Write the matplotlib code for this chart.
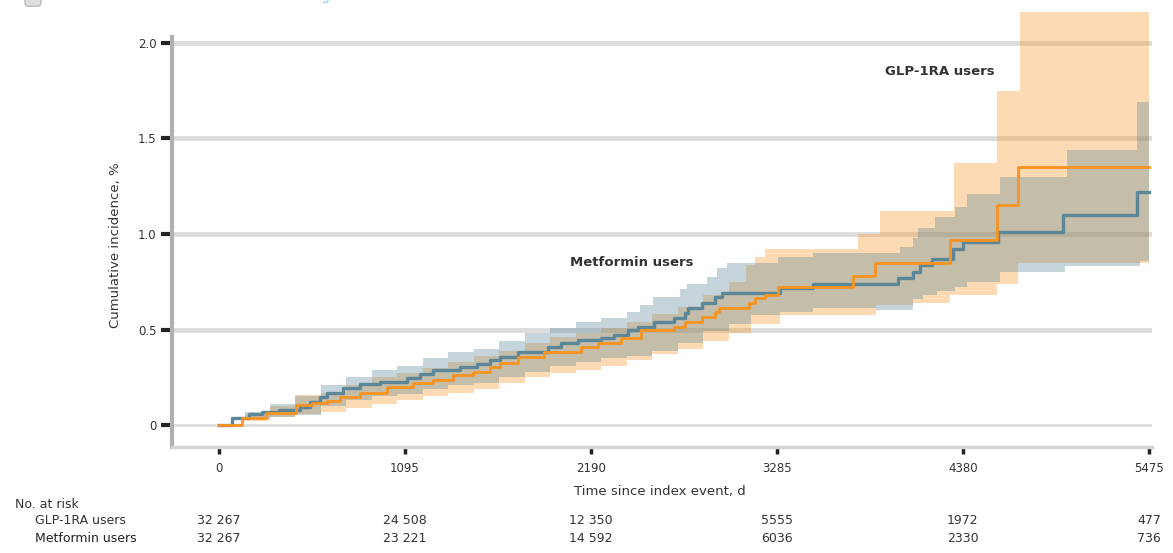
import numpy as np
import matplotlib
matplotlib.use('Agg')
import matplotlib.pyplot as plt
from matplotlib.transforms import blended_transform_factory

plt.rcParams['font.family'] = ['DejaVu Sans']

# Kaplan-Meier style cumulative incidence (%), step curves
glp_t = [0, 136, 278, 456, 550, 633, 710, 829, 988, 1142, 1261, 1379, 1497, 1598, 1657, 1758, 1912, 2131,
         2231, 2368, 2486, 2681, 2741, 2841, 2918, 2942, 3119, 3155, 3214, 3290, 3732, 3862, 4303, 4580,
         4704, 5475]
glp_est = [0.0, 0.037, 0.063, 0.105, 0.115, 0.126, 0.147, 0.168, 0.199, 0.220, 0.236, 0.262, 0.277, 0.304,
           0.325, 0.356, 0.382, 0.408, 0.429, 0.455, 0.497, 0.513, 0.539, 0.565, 0.592, 0.613, 0.639, 0.665,
           0.681, 0.72, 0.78, 0.85, 0.97, 1.15, 1.35, 1.35]

met_t = [0, 77, 178, 254, 355, 474, 533, 592, 633, 728, 829, 947, 1107, 1184, 1261, 1421, 1521, 1598, 1657,
         1758, 1935, 2012, 2113, 2249, 2326, 2409, 2468, 2563, 2681, 2741, 2764, 2841, 2918, 2960, 3303, 3497,
         3997, 4086, 4127, 4197, 4321, 4380, 4586, 4969, 5404, 5475]
met_est = [0.0, 0.037, 0.058, 0.068, 0.079, 0.094, 0.120, 0.147, 0.168, 0.194, 0.215, 0.225, 0.246, 0.267,
           0.288, 0.304, 0.319, 0.340, 0.354, 0.382, 0.408, 0.429, 0.445, 0.455, 0.471, 0.497, 0.513, 0.539,
           0.560, 0.586, 0.613, 0.639, 0.670, 0.691, 0.715, 0.74, 0.77, 0.80, 0.84, 0.87, 0.92, 0.96, 1.01,
           1.10, 1.22, 1.22]

# 95% CI bounds
glp_hi_t = [0, 150, 300, 450, 600, 750, 900, 1050, 1200, 1350, 1500, 1650, 1800, 1950, 2100, 2250, 2400,
            2550, 2700, 2850, 3000, 3100, 3155, 3214, 3762, 3890, 4330, 4580, 4715, 5475]
glp_hi = [0.0, 0.06, 0.10, 0.155, 0.17, 0.21, 0.25, 0.27, 0.30, 0.33, 0.36, 0.39, 0.43, 0.46, 0.48, 0.51,
          0.54, 0.58, 0.62, 0.68, 0.75, 0.84, 0.88, 0.92, 1.00, 1.12, 1.37, 1.75, 2.16, 2.16]
glp_lo_t = [0, 150, 300, 450, 600, 750, 900, 1050, 1200, 1350, 1500, 1650, 1800, 1950, 2100, 2250, 2400,
            2550, 2700, 2850, 3000, 3130, 3303, 3870, 4086, 4303, 4580, 4704, 5475]
glp_lo = [0.0, 0.02, 0.04, 0.06, 0.07, 0.09, 0.11, 0.13, 0.15, 0.17, 0.19, 0.22, 0.25, 0.27, 0.29, 0.31,
          0.34, 0.37, 0.40, 0.44, 0.48, 0.53, 0.575, 0.63, 0.64, 0.68, 0.74, 0.85, 0.85]

met_hi_t = [0, 150, 300, 450, 600, 750, 900, 1050, 1200, 1350, 1500, 1650, 1800, 1950, 2100, 2250, 2400,
            2480, 2555, 2714, 2755, 2873, 2932, 2991, 3291, 3497, 4009, 4086, 4115, 4215, 4333, 4404, 4598,
            4992, 5404, 5475]
met_hi = [0.0, 0.07, 0.11, 0.15, 0.21, 0.25, 0.29, 0.31, 0.35, 0.38, 0.40, 0.44, 0.48, 0.51, 0.54, 0.56,
          0.59, 0.63, 0.67, 0.71, 0.74, 0.775, 0.82, 0.85, 0.88, 0.90, 0.93, 0.98, 1.03, 1.09, 1.14, 1.21,
          1.30, 1.44, 1.69, 1.69]
met_lo_t = [0, 150, 300, 450, 600, 750, 900, 1050, 1200, 1350, 1500, 1650, 1800, 1950, 2100, 2250, 2400,
            2550, 2700, 2850, 3000, 3130, 3303, 3497, 3870, 4086, 4145, 4228, 4333, 4404, 4598, 4980, 5420, 5475]
met_lo = [0.0, 0.03, 0.04, 0.05, 0.10, 0.13, 0.15, 0.16, 0.19, 0.21, 0.22, 0.25, 0.28, 0.31, 0.33, 0.35,
          0.36, 0.39, 0.43, 0.49, 0.53, 0.576, 0.59, 0.61, 0.60, 0.66, 0.68, 0.70, 0.72, 0.75, 0.80, 0.83,
          0.86, 0.86]

# number at risk table
risk_days = [0, 1095, 2190, 3285, 4380, 5475]
glp_risk = ['32 267', '24 508', '12 350', '5555', '1972', '477']
met_risk = ['32 267', '23 221', '14 592', '6036', '2330', '736']

ORANGE = '#f7931e'
BLUE = '#5b8799'
TXT = '#333333'


def step_on(t_src, v_src, grid):
    idx = np.searchsorted(t_src, grid, side='right') - 1
    return np.asarray(v_src)[idx]


def band(lo_t, lo, hi_t, hi):
    grid = np.union1d(lo_t, hi_t)
    return grid, step_on(lo_t, lo, grid), step_on(hi_t, hi, grid)


W, H = 1173, 553
fig = plt.figure(figsize=(W / 100, H / 100), dpi=100)
ax = fig.add_axes([172 / W, 1 - 447 / H, (1152 - 172) / W, (447 - 12) / H])

ax.set_xlim(-277, 5493)
ax.set_ylim(-0.115, 2.162)

# gridlines
for yv in [0.5, 1.0, 1.5, 2.0]:
    ax.axhline(yv, color='#dcdcdc', lw=3.5, zorder=0)
ax.axhline(0, color='#dcdcdc', lw=2, zorder=0)

g_t, g_lo, g_hi = band(glp_lo_t, glp_lo, glp_hi_t, glp_hi)
m_t, m_lo, m_hi = band(met_lo_t, met_lo, met_hi_t, met_hi)
ax.fill_between(g_t, g_lo, g_hi, step='post', color=ORANGE, alpha=0.33, lw=0, zorder=1)
ax.fill_between(m_t, m_lo, m_hi, step='post', color=BLUE, alpha=0.35, lw=0, zorder=2)

ax.step(met_t, met_est, where='post', color=BLUE, lw=2.4, zorder=3)
ax.step(glp_t, glp_est, where='post', color=ORANGE, lw=2.0, zorder=4)

ax.text(4245, 1.85, 'GLP-1RA users', fontsize=9.5, fontweight='bold', color=TXT,
        ha='center', va='center')
ax.text(2431, 0.853, 'Metformin users', fontsize=9.5, fontweight='bold', color=TXT,
        ha='center', va='center')

for side in ['top', 'right']:
    ax.spines[side].set_visible(False)
ax.spines['left'].set_color('#b0b0b0')
ax.spines['left'].set_linewidth(3)
ax.spines['left'].set_bounds(-0.115, 2.03)
ax.spines['bottom'].set_color('#d6d6d6')
ax.spines['bottom'].set_linewidth(2.5)

ax.set_yticks([0, 0.5, 1.0, 1.5, 2.0])
ax.set_yticklabels(['0', '0.5', '1.0', '1.5', '2.0'])
ax.set_xticks(risk_days)
ax.set_xticklabels([str(d) for d in risk_days])
ax.tick_params(axis='y', length=8, width=3, color='#222222', pad=3, labelsize=8.5, labelcolor=TXT)
ax.tick_params(axis='x', length=5, width=2.5, color='#222222', pad=6, labelsize=8.5, labelcolor=TXT)

fig.text(660 / W, 1 - 492 / H, 'Time since index event, d', fontsize=9.5, color=TXT,
         ha='center', va='center')
fig.text(115 / W, 1 - 245 / H, 'Cumulative incidence, %', fontsize=9.5, color=TXT,
         ha='center', va='center', rotation=90)

# at-risk rows
tr = blended_transform_factory(ax.transData, fig.transFigure)
fig.text(15 / W, 1 - 505 / H, 'No. at risk', fontsize=9, color=TXT, va='center')
fig.text(35 / W, 1 - 521 / H, 'GLP-1RA users', fontsize=9, color=TXT, va='center')
fig.text(35 / W, 1 - 538 / H, 'Metformin users', fontsize=9, color='#222222', va='center')
for d, a, b in zip(risk_days, glp_risk, met_risk):
    ax.text(d, 1 - 521 / H, a, transform=tr, fontsize=9, color=TXT, ha='center', va='center',
            clip_on=False)
    ax.text(d, 1 - 538 / H, b, transform=tr, fontsize=9, color=TXT, ha='center', va='center',
            clip_on=False)

# panel heading, running off the top edge
fig.text(60 / W, 1 + 4 / H, 'Cumulative incidence of NAION among GLP-1RA users vs metformin users',
         fontsize=10, color='#7fd3f5', ha='left', va='center')
fig.text(33 / W, 1 + 4 / H, 'B', fontsize=9, color='#555555', ha='center', va='center',
         bbox=dict(boxstyle='round,pad=0.3', fc='#dedede', ec='#bbbbbb', lw=1))

fig.savefig('out.png', dpi=100)
